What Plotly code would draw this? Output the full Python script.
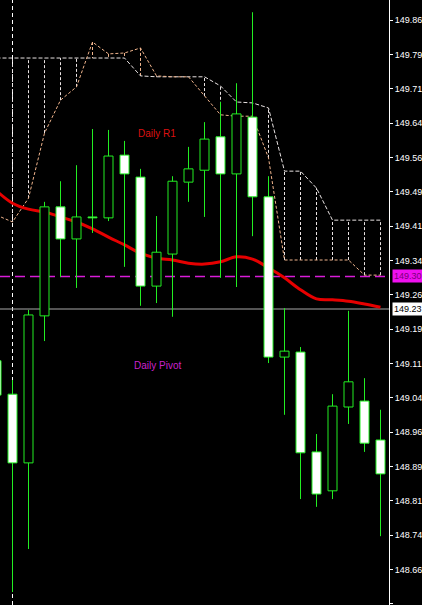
import plotly.graph_objects as go

# --- bar data (USDJPY-style M-period candles) ---
bars = list(range(25))
opens = [149.121, 149.048, 148.898, 149.219, 149.457, 149.387, 149.435, 149.433, 149.570,
         149.522, 149.284, 149.354, 149.511, 149.537, 149.610, 149.529, 149.653, 149.479,
         149.129, 149.140, 148.922, 148.837, 149.020, 149.033, 148.948]
highs = [149.134, 149.079, 149.232, 149.468, 149.513, 149.548, 149.627, 149.625, 149.601,
         149.540, 149.437, 149.524, 149.588, 149.642, 149.686, 149.727, 149.882, 149.524,
         149.236, 149.151, 148.961, 149.048, 149.230, 149.083, 149.014]
lows = [149.035, 148.616, 148.710, 149.164, 149.304, 149.280, 149.400, 149.426, 149.326,
        149.241, 149.247, 149.217, 149.468, 149.435, 149.302, 149.282, 149.393, 149.116,
        149.003, 148.819, 148.802, 148.819, 148.983, 148.922, 148.738]
closes = [149.046, 148.898, 149.221, 149.457, 149.387, 149.435, 149.433, 149.568, 149.529,
          149.284, 149.358, 149.513, 149.540, 149.605, 149.529, 149.660, 149.479, 149.129,
          149.142, 148.920, 148.830, 149.022, 149.075, 148.941, 148.874]

# moving average
ma = [149.492, 149.465, 149.452, 149.446, 149.435, 149.424, 149.409, 149.391, 149.374,
      149.356, 149.345, 149.341, 149.334, 149.332, 149.337, 149.348, 149.343, 149.324,
      149.302, 149.276, 149.256, 149.254, 149.251, 149.245, 149.238]

# Ichimoku cloud spans
span_a = [149.439, 149.424, 149.476, 149.618, 149.690, 149.719, 149.817, 149.791, 149.793,
          149.804, 149.743, 149.741, 149.741, 149.699, 149.658, 149.655, 149.655, 149.564,
          149.341, 149.341, 149.341, 149.341, 149.341, 149.308, 149.308]
span_b = [149.782, 149.782, 149.782, 149.782, 149.782, 149.782, 149.782, 149.782, 149.782,
          149.743, 149.741, 149.741, 149.741, 149.741, 149.721, 149.686, 149.684, 149.673,
          149.535, 149.535, 149.498, 149.428, 149.428, 149.428, 149.428]

pivot_level = 149.305
bid_level = 149.234
separator_bar = 1

tick_vals = [149.865, 149.790, 149.715, 149.640, 149.565, 149.490, 149.415, 149.340, 149.265,
             149.190, 149.115, 149.040, 148.965, 148.890, 148.815, 148.740, 148.665, 148.590]
tick_text = ["149.86", "149.79", "149.71", "149.64", "149.56", "149.49", "149.41",
             "149.34", "149.26", "149.19", "149.11", "149.04", "148.96", "148.89",
             "148.81", "148.74", "148.66", "148.59"]

GREEN = "#22ee22"
HALF = 0.28125          # half body width in bar units
FONT = "Liberation Sans, Arial"

fig = go.Figure()

# cloud histogram: dotted verticals between the spans
hist_b_x, hist_b_y, hist_a_x, hist_a_y = [], [], [], []
for i, a, b in zip(bars, span_a, span_b):
    if b >= a:
        hist_b_x += [i, i, None]
        hist_b_y += [a, b, None]
    else:
        hist_a_x += [i, i, None]
        hist_a_y += [a, b, None]
fig.add_trace(go.Scatter(x=hist_b_x, y=hist_b_y, mode="lines",
                         line=dict(color="#e8e2e2", width=1, dash="3px,2px")))
fig.add_trace(go.Scatter(x=hist_a_x, y=hist_a_y, mode="lines",
                         line=dict(color="#f0b48c", width=1, dash="3px,2px")))
fig.add_trace(go.Scatter(x=bars, y=span_b, mode="lines",
                         line=dict(color="#e8e2e2", width=1, dash="4px,2px")))
fig.add_trace(go.Scatter(x=bars, y=span_a, mode="lines",
                         line=dict(color="#f0b48c", width=1, dash="3px,2px")))

# moving average
fig.add_trace(go.Scatter(x=bars, y=ma, mode="lines", line_shape="spline",
                         line=dict(color="#e60000", width=3)))

# wicks
wx, wy = [], []
for i, h, l in zip(bars, highs, lows):
    wx += [i, i, None]
    wy += [h, l, None]
fig.add_trace(go.Scatter(x=wx, y=wy, mode="lines", line=dict(color=GREEN, width=1)))

# bodies: white for falling bars, black for rising bars
def body_polys(rising):
    px, py = [], []
    for i, o, c in zip(bars, opens, closes):
        if (c > o) != rising:
            continue
        lo, hi = min(o, c), max(o, c)
        px += [i - HALF, i + HALF, i + HALF, i - HALF, i - HALF, None]
        py += [lo, lo, hi, hi, lo, None]
    return px, py

for rising, fill in ((False, "#ffffff"), (True, "#000000")):
    px, py = body_polys(rising)
    fig.add_trace(go.Scatter(x=px, y=py, mode="lines", fill="toself", fillcolor=fill,
                             line=dict(color=GREEN, width=1)))

shapes = [
    dict(type="line", xref="x", yref="paper", x0=separator_bar, x1=separator_bar, y0=0, y1=1,
         line=dict(color="#ffffff", width=1, dash="4px,3px"), layer="below"),
    dict(type="line", xref="paper", yref="y", x0=0, x1=1, y0=pivot_level, y1=pivot_level,
         line=dict(color="#d81cd8", width=1.5, dash="10px,5px"), layer="below"),
    dict(type="line", xref="paper", yref="y", x0=0, x1=1, y0=bid_level, y1=bid_level,
         line=dict(color="#a8a8a8", width=1), layer="below"),
]

annotations = [
    dict(x=10.06, y=149.618, xref="x", yref="y", text="Daily R1", showarrow=False,
         font=dict(family=FONT, size=10, color="#dd1111")),
    dict(x=10.06, y=149.110, xref="x", yref="y", text="Daily Pivot", showarrow=False,
         font=dict(family=FONT, size=10, color="#cc22cc")),
    dict(x=1, y=pivot_level, xref="paper", yref="y", xanchor="left", yanchor="middle",
         xshift=3, text="149.30", showarrow=False, bgcolor="#f010f0", borderpad=1,
         font=dict(family=FONT, size=9, color="#7a007a")),
    dict(x=1, y=bid_level, xref="paper", yref="y", xanchor="left", yanchor="middle",
         xshift=3, text="149.23", showarrow=False, bgcolor="#ffffff", borderpad=1,
         font=dict(family=FONT, size=9, color="#000000")),
]

fig.update_layout(
    template="none",
    width=422, height=605,
    margin=dict(l=0, r=33, t=0, b=0),
    paper_bgcolor="#000000", plot_bgcolor="#000000",
    showlegend=False,
    shapes=shapes,
    annotations=annotations,
    xaxis=dict(visible=False, range=[0.21875, 24.53125], fixedrange=True),
    yaxis=dict(side="right", range=[148.5877, 149.9087], showgrid=False, zeroline=False,
               tickmode="array", tickvals=tick_vals, ticktext=tick_text,
               ticks="outside", ticklen=3, tickcolor="#ffffff", tickwidth=1,
               showline=True, linecolor="#ffffff", linewidth=1, automargin=False,
               tickfont=dict(family=FONT, size=9, color="#ffffff")),
)

fig.write_html("out.html")
